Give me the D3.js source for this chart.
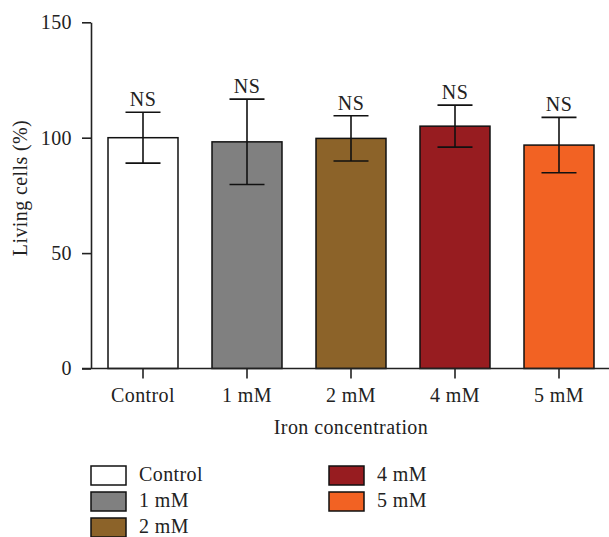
<!DOCTYPE html>
<html>
<head>
<meta charset="utf-8">
<script src="https://cdn.jsdelivr.net/npm/d3@7"></script>
<style>
  body { margin: 0; background: #fff; }
  text { font-family: "Liberation Serif", "Times New Roman", serif; fill: #222; letter-spacing: 0.4px; }
</style>
</head>
<body>
<div id="chart"></div>
<script>
// Data
const categories = ["Control", "1 mM", "2 mM", "4 mM", "5 mM"];
const means = [100, 98.2, 99.7, 105, 96.8];
const sds = [11, 18.5, 9.8, 9.1, 12];
const labels = ["NS", "NS", "NS", "NS", "NS"];
const colors = ["#ffffff", "#808080", "#8c6329", "#971c20", "#f26223"];
const yTicks = [0, 50, 100, 150];

const width = 609, height = 537;
const fontSize = 20;

const svg = d3.select("#chart")
    .append("svg")
    .attr("width", width)
    .attr("height", height);

// Scales
const x = d3.scaleBand()
    .domain(categories)
    .range([91, 611])
    .paddingInner(0.327)
    .paddingOuter(0.1635);

const y = d3.scaleLinear()
    .domain([0, 150])
    .range([368.5, 22.3]);

// Bars
svg.selectAll("rect.bar")
    .data(categories)
    .enter()
    .append("rect")
    .attr("class", "bar")
    .attr("x", d => x(d))
    .attr("y", (d, i) => y(means[i]))
    .attr("width", x.bandwidth())
    .attr("height", (d, i) => y(0) - y(means[i]))
    .attr("fill", (d, i) => colors[i])
    .attr("stroke", "#111")
    .attr("stroke-width", 1.5);

// Error bars
const capW = x.bandwidth() / 2;
const err = svg.append("g").attr("stroke", "#111").attr("stroke-width", 1.6);
categories.forEach((c, i) => {
    const cx = x(c) + x.bandwidth() / 2;
    const hi = y(means[i] + sds[i]), lo = y(means[i] - sds[i]);
    err.append("line").attr("x1", cx).attr("x2", cx).attr("y1", hi).attr("y2", lo);
    err.append("line").attr("x1", cx - capW / 2).attr("x2", cx + capW / 2).attr("y1", hi).attr("y2", hi);
    err.append("line").attr("x1", cx - capW / 2).attr("x2", cx + capW / 2).attr("y1", lo).attr("y2", lo);
    svg.append("text")
        .attr("x", cx)
        .attr("y", hi - 6)
        .attr("text-anchor", "middle")
        .attr("font-size", fontSize)
        .text(labels[i]);
});

// Y axis
const yAxis = svg.append("g")
    .attr("transform", "translate(91,0)")
    .call(d3.axisLeft(y).tickValues(yTicks).tickSize(9).tickSizeOuter(0).tickPadding(10));

// X axis
const xAxis = svg.append("g")
    .attr("transform", `translate(0,${y(0)})`)
    .call(d3.axisBottom(x).tickSize(10).tickSizeOuter(0).tickPadding(9));
xAxis.select(".domain").attr("d", `M82,0H${width}`);

[yAxis, xAxis].forEach(g => {
    g.selectAll(".domain, .tick line").attr("stroke", "#222").attr("stroke-width", 1.6);
    g.selectAll("text")
        .attr("font-size", fontSize)
        .attr("fill", "#222");
});

// Axis titles
svg.append("text")
    .attr("x", 351)
    .attr("y", 434)
    .attr("text-anchor", "middle")
    .attr("font-size", fontSize)
    .text("Iron concentration");

svg.append("text")
    .attr("transform", "translate(27,188) rotate(-90)")
    .attr("text-anchor", "middle")
    .attr("font-size", fontSize)
    .text("Living cells (%)");

// Legend
const legend = svg.append("g");
categories.forEach((c, i) => {
    const col = i < 3 ? 0 : 1;
    const row = i < 3 ? i : i - 3;
    const lx = 91 + col * 238;
    const ly = 466 + row * 26;
    legend.append("rect")
        .attr("x", lx).attr("y", ly)
        .attr("width", 35).attr("height", 19)
        .attr("fill", colors[i])
        .attr("stroke", "#111")
        .attr("stroke-width", 1.5);
    legend.append("text")
        .attr("x", lx + 48).attr("y", ly + 15)
        .attr("font-size", fontSize)
        .text(c);
});
</script>
</body>
</html>
